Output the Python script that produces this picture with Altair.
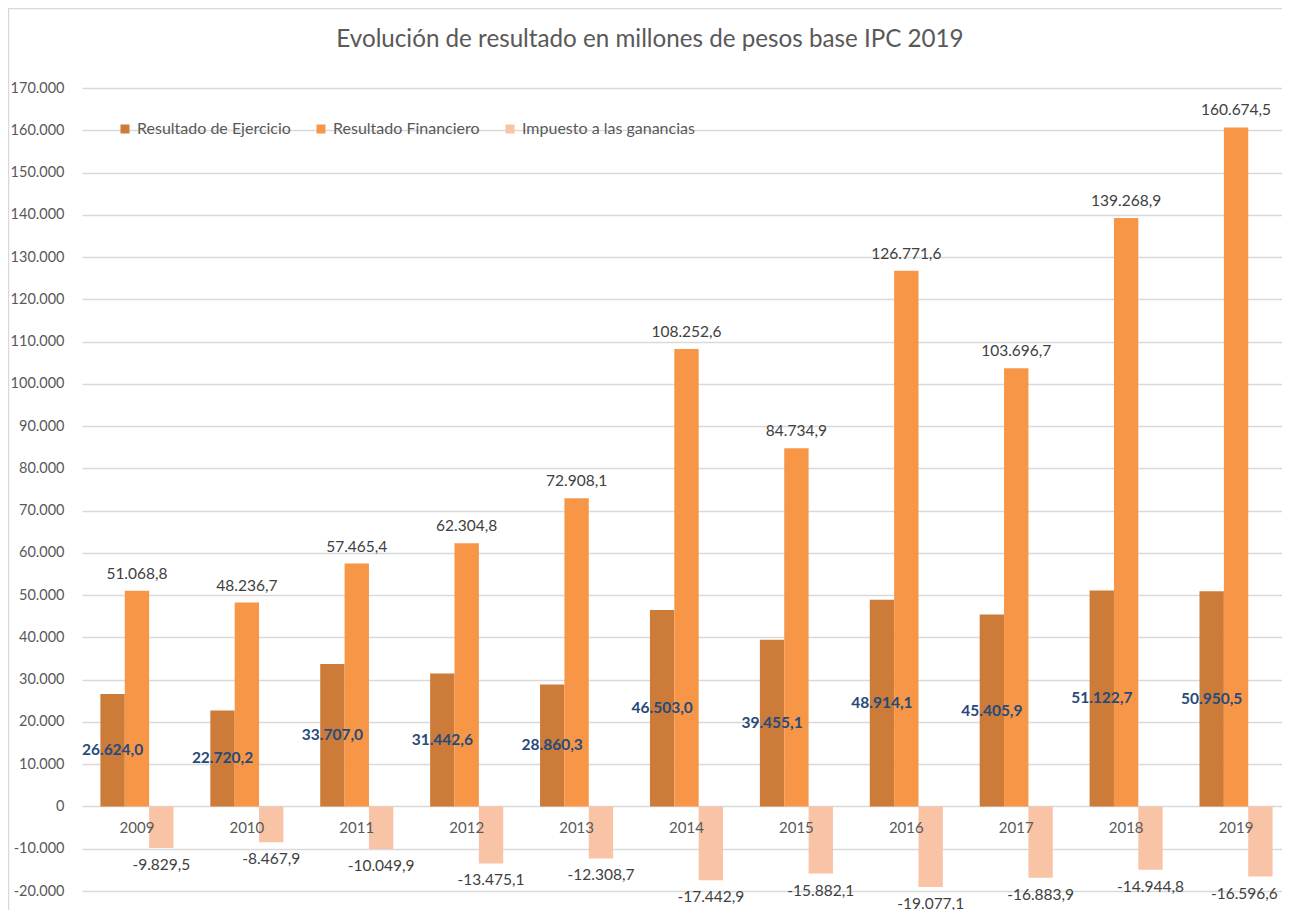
import altair as alt
import pandas as pd

years = ["2009", "2010", "2011", "2012", "2013", "2014", "2015", "2016", "2017", "2018", "2019"]
series = ["Resultado de Ejercicio", "Resultado Financiero", "Impuesto a las ganancias"]
ejercicio = [26624.0, 22720.2, 33707.0, 31442.6, 28860.3, 46503.0, 39455.1, 48914.1, 45405.9, 51122.7, 50950.5]
financiero = [51068.8, 48236.7, 57465.4, 62304.8, 72908.1, 108252.6, 84734.9, 126771.6, 103696.7, 139268.9, 160674.5]
impuesto = [-9829.5, -8467.9, -10049.9, -13475.1, -12308.7, -17442.9, -15882.1, -19077.1, -16883.9, -14944.8, -16596.6]
colors = ["#CC7B39", "#F79646", "#F9C3A6"]
y_ticks = list(range(-20000, 170001, 10000))
title_text = "Evolución de resultado en millones de pesos base IPC 2019"


def fmt(v):
    s = f"{v:,.1f}"
    return s.replace(",", "X").replace(".", ",").replace("X", ".")


rows = []
for name, vals in zip(series, [ejercicio, financiero, impuesto]):
    for yr, v in zip(years, vals):
        rows.append({"year": yr, "serie": name, "value": v, "label": fmt(v)})
df = pd.DataFrame(rows)
df_years = pd.DataFrame({"year": years})
df_title = pd.DataFrame({"t": [title_text]})

FONT = "Lato"
W, H = 1200, 803

x_enc = alt.X("year:N", scale=alt.Scale(domain=years, range=[0, 1209], paddingInner=0.335, paddingOuter=0.1675),
              axis=None)
xo_enc = alt.XOffset("serie:N", scale=alt.Scale(domain=series, paddingInner=0, paddingOuter=0))
y_scale = alt.Scale(domain=[-20000, 170000], nice=False, zero=False)

label_expr = "replace(replace(format(datum.value, ','), ',', '.'), '\u2212', '-')"
y_axis = alt.Axis(values=y_ticks, title=None, grid=True, gridColor="#d9d9d9", gridWidth=1.3,
                  domain=False, ticks=False, labelPadding=18, labelFont=FONT, labelFontSize=14.5,
                  labelColor="#595959", labelExpr=label_expr)

bars = alt.Chart(df).mark_bar().encode(
    x=x_enc,
    xOffset=xo_enc,
    y=alt.Y("value:Q", scale=y_scale, stack=None, axis=y_axis, title=None),
    color=alt.Color("serie:N", scale=alt.Scale(domain=series, range=colors),
                    legend=alt.Legend(title=None, orient="none", legendX=35, legendY=33,
                                      direction="horizontal", symbolType="square", symbolSize=81,
                                      symbolStrokeWidth=0, labelFont=FONT, labelFontSize=16,
                                      labelColor="#595959", labelOffset=4, columnPadding=22,
                                      labelLimit=400)),
)

fin_labels = alt.Chart(df).transform_filter(alt.datum.serie == series[1]).mark_text(
    font=FONT, fontSize=15.5, color="#404040", baseline="middle", dy=-17
).encode(x=x_enc, xOffset=xo_enc, y=alt.Y("value:Q", scale=y_scale, axis=y_axis, title=None), text="label:N")

imp_labels = alt.Chart(df).transform_filter(
    (alt.datum.serie == series[2]) & (alt.datum.year != years[-1])
).mark_text(
    font=FONT, fontSize=15.5, color="#404040", baseline="middle", dy=17
).encode(x=x_enc, xOffset=xo_enc, y=alt.Y("value:Q", scale=y_scale, axis=y_axis, title=None), text="label:N")

# last label nudged left so it stays inside the right edge of the page
imp_last = alt.Chart(df).transform_filter(
    (alt.datum.serie == series[2]) & (alt.datum.year == years[-1])
).mark_text(
    font=FONT, fontSize=15.5, color="#404040", baseline="middle", dy=17, dx=-16
).encode(x=x_enc, xOffset=xo_enc, y=alt.Y("value:Q", scale=y_scale, axis=y_axis, title=None), text="label:N")

eje_labels = alt.Chart(df).transform_filter(alt.datum.serie == series[0]).transform_calculate(
    mid="datum.value / 2"
).mark_text(
    font=FONT, fontSize=15.5, fontWeight="bold", color="#264A7A", baseline="middle"
).encode(x=x_enc, xOffset=xo_enc, y=alt.Y("mid:Q", scale=y_scale, axis=y_axis, title=None), text="label:N")

year_labels = alt.Chart(df_years).mark_text(
    font=FONT, fontSize=15, color="#595959", baseline="middle", dy=22
).encode(x=x_enc, y=alt.datum(0, scale=y_scale, axis=y_axis, title=None), text="year:N")

title_mark = alt.Chart(df_title).mark_text(
    font=FONT, fontSize=24.2, color="#595959", baseline="middle", align="center"
).encode(x=alt.value(568), y=alt.value(-48), text="t:N")

frame_df = pd.DataFrame({"k": [0]})
border_left = alt.Chart(frame_df).mark_rule(color="#d9d9d9", strokeWidth=1.5).encode(
    x=alt.value(-73.5), y=alt.value(-80), y2=alt.value(H + 30))
border_top = alt.Chart(frame_df).mark_rule(color="#d9d9d9", strokeWidth=1.5).encode(
    x=alt.value(-74), x2=alt.value(W), y=alt.value(-79.5))

chart = alt.layer(bars, fin_labels, imp_labels, imp_last, eje_labels, year_labels, title_mark,
                  border_left, border_top).properties(
    width=W, height=H,
    padding={"left": 74, "top": 80, "right": 0, "bottom": 20},
    autosize=alt.AutoSizeParams(type="none"),
).configure_view(stroke=None)

chart.save("out.html", embed_options={"renderer": "svg", "actions": False})
